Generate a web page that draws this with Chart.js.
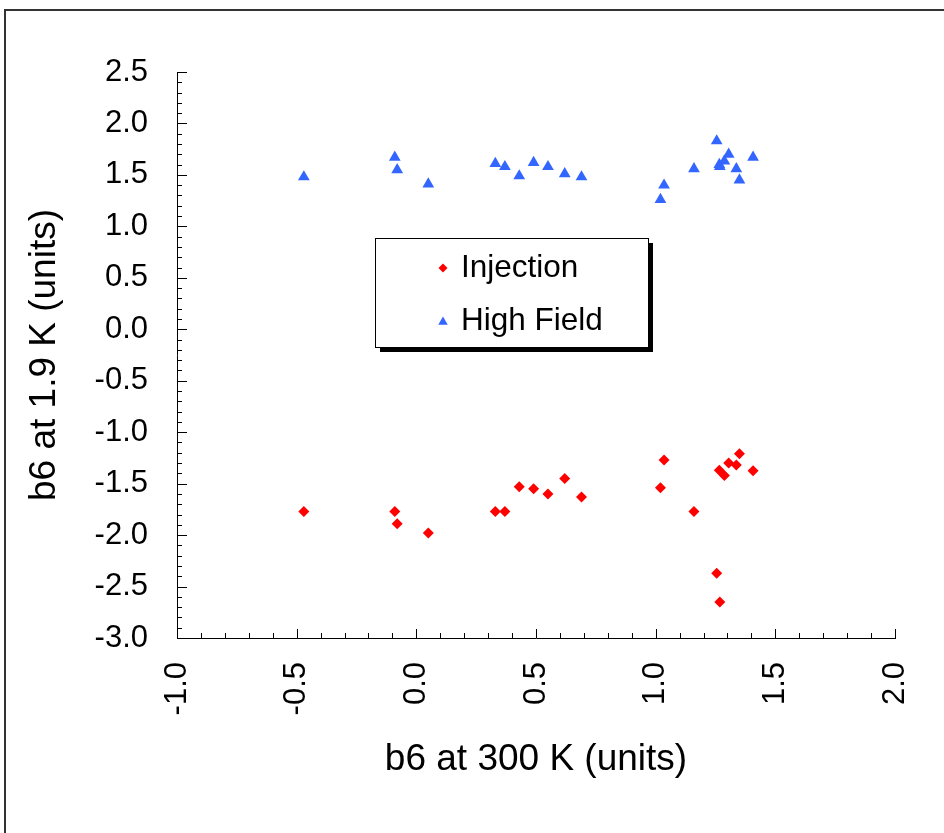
<!DOCTYPE html>
<html>
<head>
<meta charset="utf-8">
<script src="https://cdn.jsdelivr.net/npm/chart.js@4.4.0/dist/chart.umd.min.js"></script>
<style>
html, body { margin: 0; padding: 0; background: #fff; overflow: hidden; }
#frame { position: absolute; left: 4px; top: 9px; width: 1000px; height: 900px; border: 2px solid #333; box-sizing: border-box; }
canvas { position: absolute; left: 0; top: 0; }
</style>
</head>
<body>
<div id="frame"></div>
<canvas id="chart" width="944" height="833"></canvas>
<script>
// b6 at 300 K for each magnet, and b6 at 1.9 K for the two current levels
var b6At300K = [-0.47, -0.09, -0.08, 0.05, 0.33, 0.37, 0.43, 0.49, 0.55, 0.62, 0.69,
                1.02, 1.035, 1.16, 1.255, 1.266, 1.268, 1.287, 1.305, 1.337, 1.35, 1.407];
var injection = [-1.77, -1.77, -1.89, -1.98, -1.77, -1.77, -1.53, -1.55, -1.60, -1.45, -1.63,
                 -1.54, -1.27, -1.77, -2.37, -1.37, -2.65, -1.42, -1.30, -1.32, -1.21, -1.375];
var highField = [1.48, 1.67, 1.55, 1.41, 1.61, 1.58, 1.49, 1.62, 1.58, 1.51, 1.48,
                 1.26, 1.40, 1.56, 1.83, 1.60, 1.58, 1.635, 1.70, 1.56, 1.45, 1.67];
var seriesNames = ['Injection', 'High Field'];
var xTicks = [-1.0, -0.5, 0.0, 0.5, 1.0, 1.5, 2.0];
var yTicks = [-3.0, -2.5, -2.0, -1.5, -1.0, -0.5, 0.0, 0.5, 1.0, 1.5, 2.0, 2.5];

var FONT = '"Liberation Sans", Arial, sans-serif';

function toPoints(ys) {
    return b6At300K.map(function (x, i) { return { x: x, y: ys[i] }; });
}

function marker(ctx, style, r, color, x, y) {
    ctx.fillStyle = color;
    ctx.beginPath();
    if (style === 'rectRot') {
        ctx.moveTo(x, y - r); ctx.lineTo(x + r, y); ctx.lineTo(x, y + r); ctx.lineTo(x - r, y);
    } else {
        ctx.moveTo(x, y - r); ctx.lineTo(x + r * 0.866, y + r * 0.5); ctx.lineTo(x - r * 0.866, y + r * 0.5);
    }
    ctx.closePath();
    ctx.fill();
}

// inside tick marks + boxed legend with drop shadow
var extras = {
    id: 'extras',
    afterDraw: function (chart) {
        var ctx = chart.ctx, xs = chart.scales.x, ys = chart.scales.y, a = chart.chartArea;
        ctx.save();
        ctx.strokeStyle = '#000';
        ctx.lineWidth = 1;
        var i, px, len;
        for (i = 0; i <= 30; i++) {
            px = Math.round(xs.getPixelForValue(xTicks[0] + i * 0.1)) + 0.5;
            len = (i % 5 === 0) ? 9 : 5;
            ctx.beginPath(); ctx.moveTo(px, a.bottom); ctx.lineTo(px, a.bottom - len); ctx.stroke();
        }
        for (i = 0; i <= 55; i++) {
            px = Math.round(ys.getPixelForValue(yTicks[0] + i * 0.1)) + 0.5;
            len = (i % 5 === 0) ? 10 : 5;
            ctx.beginPath(); ctx.moveTo(a.left, px); ctx.lineTo(a.left + len, px); ctx.stroke();
        }

        // legend
        var lx = 375, ly = 238, lw = 273, lh = 109;
        ctx.fillStyle = '#000';
        ctx.fillRect(lx + 5, ly + 5, lw, lh);
        ctx.fillStyle = '#fff';
        ctx.fillRect(lx, ly, lw, lh);
        ctx.strokeRect(lx + 0.5, ly + 0.5, lw, lh);
        var ds = chart.data.datasets;
        marker(ctx, 'rectRot', 4.5, ds[0].backgroundColor, 443, 268);
        marker(ctx, 'triangle', 5.5, ds[1].backgroundColor, 443, 322);
        ctx.fillStyle = '#000';
        ctx.font = '31.5px ' + FONT;
        ctx.textBaseline = 'middle';
        ctx.textAlign = 'left';
        ctx.fillText(ds[0].label, 461, 268);
        ctx.fillText(ds[1].label, 461, 321);
        ctx.restore();
    }
};

new Chart(document.getElementById('chart'), {
    type: 'scatter',
    data: {
        datasets: [{
            label: seriesNames[0],
            data: toPoints(injection),
            pointStyle: 'rectRot',
            pointRadius: 5.5,
            backgroundColor: '#FF0000',
            borderColor: '#FF0000',
            borderWidth: 0
        }, {
            label: seriesNames[1],
            data: toPoints(highField),
            pointStyle: 'triangle',
            pointRadius: 6.8,
            backgroundColor: '#3366FF',
            borderColor: '#3366FF',
            borderWidth: 0
        }]
    },
    options: {
        responsive: false,
        animation: false,
        layout: { padding: { left: 0, top: 72, right: 49, bottom: 0 } },
        plugins: { legend: { display: false }, tooltip: { enabled: false } },
        scales: {
            x: {
                type: 'linear',
                min: xTicks[0],
                max: xTicks[xTicks.length - 1],
                afterBuildTicks: function (s) { s.ticks = xTicks.map(function (v) { return { value: v }; }); },
                afterFit: function (s) { s.height = 195; s.paddingLeft = 0; s.paddingRight = 0; },
                ticks: {
                    minRotation: 90, maxRotation: 90, padding: 24, color: '#000',
                    font: { family: FONT, size: 31 },
                    callback: function (v) { return Number(v).toFixed(1); }
                },
                grid: { display: false, drawTicks: false },
                border: { display: true, color: '#000', width: 1 },
                title: {
                    display: true, text: 'b6 at 300 K (units)', color: '#000',
                    font: { family: FONT, size: 37 }, padding: { top: 0, bottom: 51 }
                }
            },
            y: {
                type: 'linear',
                min: yTicks[0],
                max: yTicks[yTicks.length - 1],
                afterBuildTicks: function (s) { s.ticks = yTicks.map(function (v) { return { value: v }; }); },
                afterFit: function (s) { s.width = 177; s.paddingTop = 0; s.paddingBottom = 0; },
                ticks: {
                    padding: 29, color: '#000',
                    font: { family: FONT, size: 31 },
                    callback: function (v) { return Number(v).toFixed(1); }
                },
                grid: { display: false, drawTicks: false },
                border: { display: true, color: '#000', width: 1 },
                title: {
                    display: true, text: 'b6 at 1.9 K (units)', color: '#000',
                    font: { family: FONT, size: 37 }, padding: { top: 23, bottom: 0 }
                }
            }
        }
    },
    plugins: [extras]
});
</script>
</body>
</html>
